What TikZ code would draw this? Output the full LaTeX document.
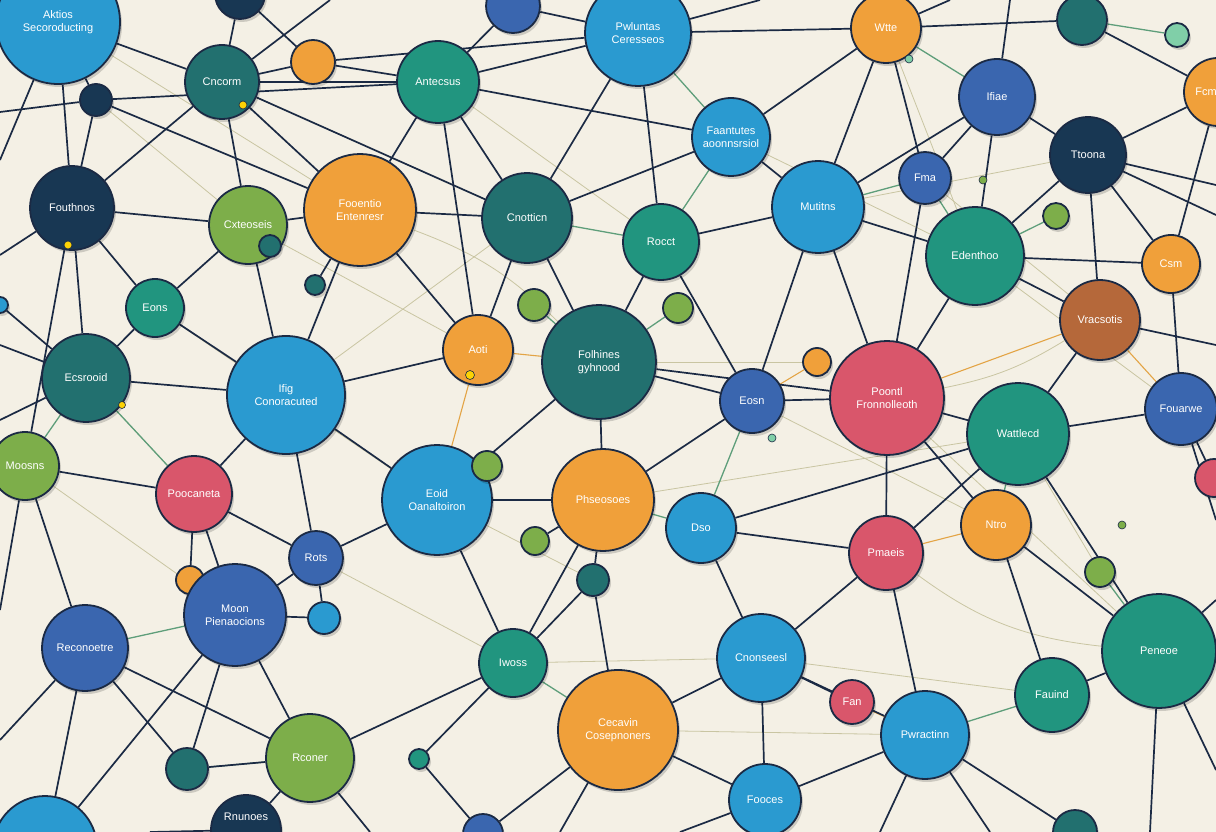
\documentclass[tikz,border=0pt]{standalone}
\usepackage{fontspec}
\newfontfamily\lblf{Liberation Sans}
\usetikzlibrary{shadows}
\pgfdeclarelayer{background}
\pgfsetlayers{background,main}
\definecolor{bgc}{HTML}{F4F0E5}
\definecolor{edgec}{HTML}{1B2A44}
\definecolor{cBB}{HTML}{2A9AD0}
\definecolor{cRB}{HTML}{3A66AF}
\definecolor{cTG}{HTML}{21957F}
\definecolor{cDT}{HTML}{22706F}
\definecolor{cNV}{HTML}{183753}
\definecolor{cOR}{HTML}{F0A03A}
\definecolor{cYG}{HTML}{7DAE4A}
\definecolor{cPK}{HTML}{D9566B}
\definecolor{cBR}{HTML}{B5683A}
\definecolor{cMT}{HTML}{80CFA8}
\definecolor{paleC}{HTML}{C9C5A2}
\definecolor{greenC}{HTML}{5E9E7A}
\definecolor{orC}{HTML}{E3A445}
\tikzset{
  lblfont/.style={font=\lblf\fontsize{11}{13}\selectfont},
  nd/.style={circle, draw=edgec, line width=1.8pt, inner sep=0pt, text=white,
    lblfont, align=center,
    drop shadow={opacity=0.16, shadow xshift=2pt, shadow yshift=-3pt, fill=black}},
  dot/.style={circle, inner sep=0pt, minimum size=#1, draw=edgec, line width=0.6pt},
  ed/.style={draw=edgec, line width=1.7pt},
  edp/.style={draw=paleC, line width=0.8pt},
  edg/.style={draw=greenC, line width=1.3pt},
  edo/.style={draw=orC, line width=1.1pt},
}
\begin{document}
\begin{tikzpicture}[x=1pt,y=-1pt]
\useasboundingbox (0,0) rectangle (1216,832);
\clip (0,0) rectangle (1216,832);
% ---------- nodes ----------
\node[nd, fill=cBB, minimum size=124] (a1) at (58,22) {Aktios\\Secoroducting};
\node[nd, fill=cNV, minimum size=50] (a2) at (240,-6) {};
\node[nd, fill=cDT, minimum size=74] (a3) at (222,82) {Cncorm};
\node[nd, fill=cOR, minimum size=44] (a4) at (313,62) {};
\node[nd, fill=cNV, minimum size=32] (a5) at (96,100) {};
\node[nd, fill=cTG, minimum size=82] (a6) at (438,82) {Antecsus};
\node[nd, fill=cRB, minimum size=54] (a7) at (513,6) {};
\node[nd, fill=cBB, minimum size=106] (a8) at (638,33) {Pwluntas\\Ceresseos};
\node[nd, fill=cOR, minimum size=70] (a9) at (886,28) {Wtte};
\node[nd, fill=cDT, minimum size=50] (a10) at (1082,20) {};
\node[nd, fill=cMT, minimum size=24] (a11) at (1177,35) {};
\node[nd, fill=cOR, minimum size=68,
  label={[lblfont, text=white, xshift=-12pt]center:Fcm}] (a12) at (1218,92) {};
\node[nd, fill=cRB, minimum size=76] (a13) at (997,97) {Ifiae};
\node[nd, fill=cBB, minimum size=78] (a14) at (731,137) {Faantutes\\aoonnsrsiol};
\node[nd, fill=cNV, minimum size=76] (a15) at (1088,155) {Ttoona};
\node[nd, fill=cRB, minimum size=52] (a16) at (925,178) {Fma};
\node[nd, fill=cYG, minimum size=26] (a18) at (1056,216) {};
\node[nd, fill=cNV, minimum size=84] (b1) at (72,208) {Fouthnos};
\node[nd, fill=cYG, minimum size=78] (b2) at (248,225) {Cxteoseis};
\node[nd, fill=cDT, minimum size=22] (b3) at (270,246) {};
\node[nd, fill=cOR, minimum size=112] (b4) at (360,210) {Fooentio\\Entenresr};
\node[nd, fill=cDT, minimum size=90] (b5) at (527,218) {Cnotticn};
\node[nd, fill=cTG, minimum size=76] (b6) at (661,242) {Rocct};
\node[nd, fill=cBB, minimum size=92] (b7) at (818,207) {Mutitns};
\node[nd, fill=cTG, minimum size=98] (b8) at (975,256) {Edenthoo};
\node[nd, fill=cOR, minimum size=58] (b9) at (1171,264) {Csm};
\node[nd, fill=cTG, minimum size=58] (b10) at (155,308) {Eons};
\node[nd, fill=cDT, minimum size=20] (b11) at (315,285) {};
\node[nd, fill=cYG, minimum size=32] (b12) at (534,305) {};
\node[nd, fill=cYG, minimum size=30] (b13) at (678,308) {};
\node[nd, fill=cOR, minimum size=70] (b14) at (478,350) {Aoti};
\node[nd, fill=cDT, minimum size=114] (b15) at (599,362) {Folhines\\gyhnood};
\node[nd, fill=cDT, minimum size=88] (b16) at (86,378) {Ecsrooid};
\node[nd, fill=cBB, minimum size=118] (b17) at (286,395) {Ifig\\Conoracuted};
\node[nd, fill=cRB, minimum size=64] (b18) at (752,401) {Eosn};
\node[nd, fill=cOR, minimum size=28] (b19) at (817,362) {};
\node[nd, fill=cPK, minimum size=114] (b20) at (887,398) {Poontl\\Fronnolleoth};
\node[nd, fill=cBR, minimum size=80] (b21) at (1100,320) {Vracsotis};
\node[nd, fill=cTG, minimum size=102] (b22) at (1018,434) {Wattlecd};
\node[nd, fill=cRB, minimum size=72] (b23) at (1181,409) {Fouarwe};
\node[nd, fill=cPK, minimum size=38] (b24) at (1214,478) {};
\node[nd, fill=cYG, minimum size=68] (c1) at (25,466) {Moosns};
\node[nd, fill=cPK, minimum size=76] (c2) at (194,494) {Poocaneta};
\node[nd, fill=cBB, minimum size=110] (c3) at (437,500) {Eoid\\Oanaltoiron};
\node[nd, fill=cYG, minimum size=30] (c4) at (487,466) {};
\node[nd, fill=cOR, minimum size=102] (c5) at (603,500) {Phseosoes};
\node[nd, fill=cBB, minimum size=70] (c6) at (701,528) {Dso};
\node[nd, fill=cYG, minimum size=28] (c7) at (535,541) {};
\node[nd, fill=cOR, minimum size=70] (c8) at (996,525) {Ntro};
\node[nd, fill=cPK, minimum size=74] (c9) at (886,553) {Pmaeis};
\node[nd, fill=cRB, minimum size=54] (c10) at (316,558) {Rots};
\node[nd, fill=cDT, minimum size=32] (c11) at (593,580) {};
\node[nd, fill=cOR, minimum size=28] (c12) at (190,580) {};
\node[nd, fill=cBB, minimum size=32] (c13) at (324,618) {};
\node[nd, fill=cRB, minimum size=86] (c14) at (85,648) {Reconoetre};
\node[nd, fill=cRB, minimum size=102] (c15) at (235,615) {Moon\\Pienaocions};
\node[nd, fill=cTG, minimum size=114] (c16) at (1159,651) {Peneoe};
\node[nd, fill=cYG, minimum size=30] (c17) at (1100,572) {};
\node[nd, fill=cTG, minimum size=68] (d1) at (513,663) {Iwoss};
\node[nd, fill=cBB, minimum size=88] (d2) at (761,658) {Cnonseesl};
\node[nd, fill=cPK, minimum size=44] (d3) at (852,702) {Fan};
\node[nd, fill=cTG, minimum size=74] (d4) at (1052,695) {Fauind};
\node[nd, fill=cBB, minimum size=88] (d5) at (925,735) {Pwractinn};
\node[nd, fill=cOR, minimum size=120] (d6) at (618,730) {Cecavin\\Cosepnoners};
\node[nd, fill=cYG, minimum size=88] (d7) at (310,758) {Rconer};
\node[nd, fill=cDT, minimum size=42] (d8) at (187,769) {};
\node[nd, fill=cNV, minimum size=70] (d9) at (246,830) {Rnunoes\\[14pt]};
\node[nd, fill=cBB, minimum size=72] (d10) at (765,800) {Fooces};
\node[nd, fill=cBB, minimum size=104] (d11) at (45,848) {};
\node[nd, fill=cTG, minimum size=20] (d12) at (419,759) {};
\node[nd, fill=cRB, minimum size=40] (d13) at (483,834) {};
\node[nd, fill=cDT, minimum size=44] (d14) at (1075,832) {};
\node[nd, fill=cBB, minimum size=16] (e0) at (0,305) {};
% small decorative dots
\node[dot=9, fill=yellow!70!orange] (y1) at (470,375) {};
\node[dot=8, fill=yellow!70!orange] (y2) at (243,105) {};
\node[dot=8, fill=yellow!70!orange] (y3) at (68,245) {};
\node[dot=7, fill=yellow!70!orange] (y4) at (122,405) {};
\node[dot=8, fill=cMT] (y5) at (909,59) {};
\node[dot=8, fill=cYG] (y6) at (983,180) {};
\node[dot=8, fill=cMT] (y7) at (772,438) {};
\node[dot=8, fill=cYG] (y8) at (1122,525) {};
% border coordinates
\coordinate (L1) at (0,112);
\coordinate (L2) at (0,160);
\coordinate (L3) at (0,255);
\coordinate (L4) at (0,345);
\coordinate (L5) at (0,420);
\coordinate (L6) at (0,610);
\coordinate (L7) at (0,740);
\coordinate (T1) at (330,0);
\coordinate (T2) at (760,0);
\coordinate (T3) at (950,0);
\coordinate (T4) at (1010,0);
\coordinate (R1) at (1216,185);
\coordinate (R2) at (1216,215);
\coordinate (R3) at (1216,345);
\coordinate (R4) at (1216,520);
\coordinate (R5) at (1216,600);
\coordinate (R6) at (1216,770);
\coordinate (B1) at (150,832);
\coordinate (B2) at (560,832);
\coordinate (B3) at (680,832);
\coordinate (B4) at (880,832);
\coordinate (B5) at (990,832);
\coordinate (B6) at (1150,832);
\coordinate (B7) at (370,832);
% ---------- connectors ----------
\begin{pgfonlayer}{background}
\fill[bgc] (0,0) rectangle (1216,832);
\clip (0,0) rectangle (1216,832);
% pale thin lines
\foreach \u/\v in {a1/b4, a3/b5, a5/b2, b2/b14, b10/c3, b16/c2, c1/c15, b17/b5,
  a14/b8, a16/b21, b8/b23, b20/c16, b22/c17, c3/c11, d1/d2, d6/d5, c14/L7, a6/b6,
  b7/a15, c5/b22, b15/b19, d2/d4, c2/d1, a9/b8, b18/c8}
  \draw[edp] (\u) -- (\v);
\draw[edp] (b4) to[bend left=12] (b15);
\draw[edp] (c9) to[bend right=15] (c16);
\draw[edp] (b21) to[bend left=10] (b20);
% green lines
\foreach \u/\v in {a8/a14, a14/b6, b5/b6, b12/b15, b13/b15, a9/a13, a16/b8,
  b18/c6, b16/c1, b16/c2, a18/b8, c17/c16, c6/c5, b22/c8, b7/a16, d1/d6, c14/c15,
  d5/d4, d7/d8, a10/a11}
  \draw[edg] (\u) -- (\v);
% orange lines
\foreach \u/\v in {b14/c3, b14/b15, b21/b23, b19/b18, c8/c9, d3/d5, b20/b21, c15/c12}
  \draw[edo] (\u) -- (\v);
% dark lines
\foreach \u/\v in {a1/a3, a1/a5, a1/b1, a2/a3, a2/a4, a3/a4, a3/b1, a3/b2, a3/b4,
  a3/b5, a3/a6, a4/a6, a4/a8, a5/a6, a5/b1, a5/b4, a6/a7, a6/a8, a6/b4, a6/b5,
  a6/b14, a6/a14, a7/a8, a8/a9, a8/b5, a8/b6, a9/a10, a9/b7, a9/a16,
  a9/a14, a10/a12, a13/a15, a13/a16, a13/b7, a13/b8, a15/a12, a15/b8, a15/b9,
  a15/b21, a14/b7, a14/b5, a16/b20, b1/b10, b1/b16, b1/b2, b1/c1,
  b2/b4, b2/b10, b2/b17, b4/b5, b4/b17, b4/b14, b4/b11, b5/b15, b5/b14,
  b6/b7, b6/b15, b6/b18, b7/b8, b7/b18, b7/b20, b8/b21, b8/b9, b8/b20, b9/a12,
  b9/b23, b10/b16, b10/b17, b14/b17, b15/b18, b15/c5, b15/b20, b15/c3,
  b16/b17, b17/c2, b17/c3, b17/c10, b18/b20, b18/c5, b20/b22,
  b20/c9, b20/c8, b21/b22, b22/b23, b22/c16, b23/b24, c1/c2, c1/c14,
  c2/c10, c2/c15, c3/c5, c3/c10, c3/d1, c5/d1, c5/c11, c6/d2, c6/b22, c6/c9,
  c8/c16, c8/d4, c9/d2, c9/d5, c10/c15, c11/d1, c11/d6, c14/d7, c14/d11,
  c15/d7, c15/d8, c15/c13, c16/d4, d1/d7, d2/d6, d2/d10, d2/d5, d5/d14,
  d6/d10, d6/d13, d7/d9, d7/d8, c14/d8, b22/c9, d5/d10, d1/d12, c13/c10, d12/d13,
  c12/c2, c4/c3, c7/c5, d3/d2, e0/b16,
  a5/L1, a1/L2, b1/L3, b16/L4, b16/L5, c1/L6, c14/L7, a3/T1, a8/T2, a9/T3, a13/T4,
  a15/R1, a15/R2, b21/R3, b23/R4, c16/R5, c16/R6, d9/B1, d6/B2, d10/B3, d5/B4,
  d5/B5, c16/B6, d7/B7, d11/c15}
  \draw[ed] (\u) -- (\v);
\end{pgfonlayer}
\end{tikzpicture}
\end{document}
